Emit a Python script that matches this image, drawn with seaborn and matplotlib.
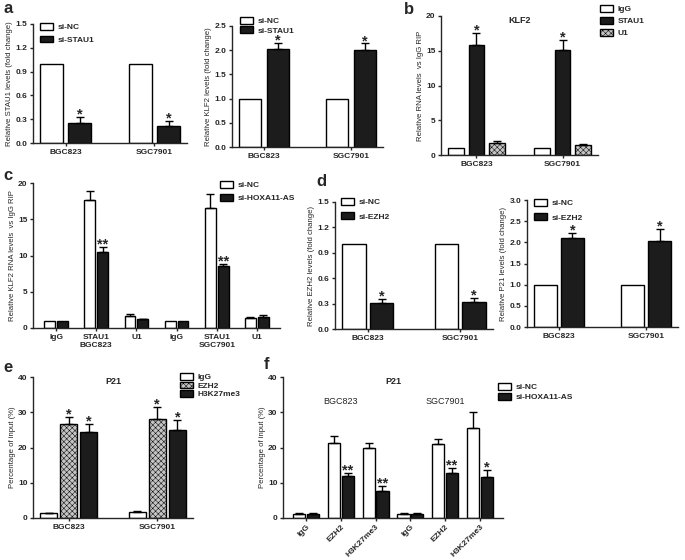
import numpy as np
import pandas as pd
import seaborn as sns
import matplotlib.pyplot as plt
from matplotlib.patches import Patch

sns.set_style("ticks")
plt.rcParams["font.family"] = ["Liberation Sans", "DejaVu Sans"]
plt.rcParams["hatch.linewidth"] = 0.35

# ---------------- data ----------------
cells = ["BGC823", "SGC7901"]

# a (left): STAU1 knockdown
a1_nc = [1.0, 1.0]
a1_si = [0.25, 0.22]
a1_si_err = [0.08, 0.06]
a1_yticks = [0.0, 0.3, 0.6, 0.9, 1.2, 1.5]

# a (right): KLF2 after STAU1 knockdown
a2_nc = [1.0, 1.0]
a2_si = [2.02, 2.0]
a2_si_err = [0.13, 0.14]
a2_yticks = [0.0, 0.5, 1.0, 1.5, 2.0, 2.5]

# b: RIP KLF2
b_groups = ["IgG", "STAU1", "U1"]
b_igg = [1.0, 1.0]
b_stau1 = [15.8, 15.1]
b_u1 = [1.7, 1.4]
b_err = {"IgG": [0.0, 0.0], "STAU1": [1.8, 1.5], "U1": [0.3, 0.25]}
b_yticks = [0, 5, 10, 15, 20]

# c: KLF2 RIP after HOXA11-AS knockdown
c_sites = ["IgG", "STAU1", "U1", "IgG", "STAU1", "U1"]
c_cells = ["BGC823"] * 3 + ["SGC7901"] * 3
c_nc = [1.0, 17.6, 1.7, 1.0, 16.5, 1.4]
c_nc_err = [0.0, 1.3, 0.2, 0.0, 2.0, 0.15]
c_si = [1.0, 10.5, 1.2, 1.0, 8.5, 1.5]
c_si_err = [0.0, 0.7, 0.1, 0.0, 0.35, 0.3]
c_stars = ["", "**", "", "", "**", ""]
c_yticks = [0, 5, 10, 15, 20]

# d (left): EZH2 knockdown
d1_nc = [1.0, 1.0]
d1_si = [0.31, 0.32]
d1_si_err = [0.05, 0.05]
d1_yticks = [0.0, 0.3, 0.6, 0.9, 1.2, 1.5]

# d (right): P21 after EZH2 knockdown
d2_nc = [1.0, 1.0]
d2_si = [2.1, 2.03]
d2_si_err = [0.12, 0.28]
d2_yticks = [0.0, 0.5, 1.0, 1.5, 2.0, 2.5, 3.0]

# e: ChIP P21
e_groups = ["IgG", "EZH2", "H3K27me3"]
e_igg = [1.3, 1.7]
e_ezh2 = [26.7, 28.2]
e_h3 = [24.5, 25.1]
e_err = {"IgG": [0.2, 0.3], "EZH2": [2.0, 3.2], "H3K27me3": [2.2, 2.7]}
e_yticks = [0, 10, 20, 30, 40]

# f: ChIP P21 after HOXA11-AS knockdown
f_sites = ["IgG", "EZH2", "H3K27me3", "IgG", "EZH2", "H3K27me3"]
f_cells = ["BGC823"] * 3 + ["SGC7901"] * 3
f_nc = [1.2, 21.4, 19.8, 1.2, 21.1, 25.4]
f_nc_err = [0.1, 1.8, 1.6, 0.1, 1.3, 4.6]
f_si = [1.2, 11.8, 7.8, 1.2, 12.9, 11.5]
f_si_err = [0.1, 1.0, 1.3, 0.1, 1.3, 2.2]
f_stars = ["", "**", "**", "", "**", "*"]
f_yticks = [0, 10, 20, 30, 40]

# ---------------- helpers ----------------
W, H = 685, 560
fig = plt.figure(figsize=(W / 100, H / 100), dpi=100)
LW = 1.0
GREY = "#c4c4c4"


def px_axes(l, t, r, b):
    return fig.add_axes([l / W, 1 - b / H, (r - l) / W, (b - t) / H])


def style(ax, yticks, ylabel, fmt):
    sns.despine(ax=ax)
    for s in ["left", "bottom"]:
        ax.spines[s].set_linewidth(LW)
    ax.set_ylim(yticks[0], yticks[-1])
    ax.set_yticks(yticks)
    ax.set_yticklabels([fmt.format(v) for v in yticks], fontsize=6, fontweight="bold")
    ax.tick_params(axis="both", width=LW, length=2.5, pad=1.5)
    ax.tick_params(axis="x", labelsize=6)
    for lab in ax.get_xticklabels():
        lab.set_fontweight("bold")
    ax.set_xlabel("")
    ax.set_ylabel(ylabel, fontsize=5.6, labelpad=1.5)


def bars(ax, df, x, order, hue_order, colors, width, gap, hatch_levels=()):
    sns.barplot(data=df, x=x, y="value", hue="group", order=order,
                hue_order=hue_order, palette=colors, edgecolor="black",
                linewidth=LW, width=width, gap=gap, legend=False, ax=ax)
    n = len(order)
    out = {}
    for i, g in enumerate(hue_order):
        ps = ax.patches[i * n:(i + 1) * n]
        out[g] = ps
        if g in hatch_levels:
            for p in ps:
                p.set_hatch("xxxxxx")
    return out


def errs(ax, patches, err, stars=None, star_size=10.5):
    xs = np.array([p.get_x() + p.get_width() / 2 for p in patches])
    hs = np.array([p.get_height() for p in patches])
    err = np.asarray(err, dtype=float)
    m = err > 0
    ax.errorbar(xs[m], hs[m], yerr=[np.zeros(m.sum()), err[m]], fmt="none",
                ecolor="black", elinewidth=LW, capsize=3.2, capthick=LW, zorder=3)
    if stars:
        for x0, h0, e0, s in zip(xs, hs, err, stars):
            if s:
                ax.annotate(s, (x0, h0 + e0), xytext=(0, -3.3),
                            textcoords="offset points", ha="center", va="bottom",
                            fontsize=star_size, fontweight="bold")


def legend(ax, labels, colors, x, y, spacing=0.55, hatched=()):
    handles = [Patch(facecolor=colors[l], edgecolor="black", linewidth=LW,
                     hatch="xxxxxx" if l in hatched else None) for l in labels]
    ax.legend(handles, labels, loc="upper left", bbox_to_anchor=(x / W, 1 - y / H),
              bbox_transform=fig.transFigure, frameon=False,
              prop={"weight": "bold", "size": 6}, handlelength=1.6,
              handleheight=0.85, handletextpad=0.5, labelspacing=spacing,
              borderpad=0, borderaxespad=0)


def two_df(a, b, la, lb, cats):
    return pd.DataFrame({"cell": cats * 2, "value": a + b,
                         "group": [la] * len(cats) + [lb] * len(cats)})


# ---------------- panel a ----------------
col_a = {"si-NC": "white", "si-STAU1": "#1c1c1c"}
ax = px_axes(33, 24, 187, 143)
ps = bars(ax, two_df(a1_nc, a1_si, "si-NC", "si-STAU1", cells), "cell", cells,
          ["si-NC", "si-STAU1"], col_a, 0.64, 0.2)
errs(ax, ps["si-STAU1"], a1_si_err, ["*", "*"])
style(ax, a1_yticks, "Relative STAU1 levels (fold change)", "{:.1f}")
legend(ax, ["si-NC", "si-STAU1"], col_a, 40, 23)

ax = px_axes(232, 26, 383, 147)
ps = bars(ax, two_df(a2_nc, a2_si, "si-NC", "si-STAU1", cells), "cell", cells,
          ["si-NC", "si-STAU1"], col_a, 0.64, 0.2)
errs(ax, ps["si-STAU1"], a2_si_err, ["*", "*"])
style(ax, a2_yticks, "Relative KLF2 levels (fold change)", "{:.1f}")
legend(ax, ["si-NC", "si-STAU1"], col_a, 240, 17, spacing=0.15)

# ---------------- panel b ----------------
col_b = {"IgG": "white", "STAU1": "#1c1c1c", "U1": GREY}
df_b = pd.DataFrame({"cell": cells * 3, "value": b_igg + b_stau1 + b_u1,
                     "group": ["IgG"] * 2 + ["STAU1"] * 2 + ["U1"] * 2})
ax = px_axes(441, 16, 598, 155)
ps = bars(ax, df_b, "cell", cells, b_groups, col_b, 0.71, 0.22, hatch_levels=["U1"])
for g in b_groups:
    errs(ax, ps[g], b_err[g], ["*", "*"] if g == "STAU1" else None)
style(ax, b_yticks, "Relative RNA levels  vs IgG RIP", "{:d}")
ax.text(0.5, 1.0, "KLF2", transform=ax.transAxes, ha="center", va="top",
        fontsize=6.5, fontweight="bold")
legend(ax, b_groups, col_b, 600, 5, spacing=0.45, hatched=["U1"])

# ---------------- panel c ----------------
col_c = {"si-NC": "white", "si-HOXA11-AS": "#1c1c1c"}
c_keys = [f"{s}|{c}" for s, c in zip(c_sites, c_cells)]
ax = px_axes(33, 183, 280, 328)
ps = bars(ax, two_df(c_nc, c_si, "si-NC", "si-HOXA11-AS", c_keys), "cell", c_keys,
          ["si-NC", "si-HOXA11-AS"], col_c, 0.64, 0.15)
errs(ax, ps["si-NC"], c_nc_err)
errs(ax, ps["si-HOXA11-AS"], c_si_err, c_stars)
style(ax, c_yticks, "Relative KLF2 RNA levels  vs IgG RIP", "{:d}")
ax.set_xticks(range(len(c_keys)))
ax.set_xticklabels([s + ("\n" + c if s == "STAU1" else "\n") for s, c in zip(c_sites, c_cells)],
                   fontsize=6, fontweight="bold", linespacing=1.3)
legend(ax, ["si-NC", "si-HOXA11-AS"], col_c, 220, 181, spacing=0.6)

# ---------------- panel d ----------------
col_d = {"si-NC": "white", "si-EZH2": "#1c1c1c"}
ax = px_axes(335, 202, 493, 329)
ps = bars(ax, two_df(d1_nc, d1_si, "si-NC", "si-EZH2", cells), "cell", cells,
          ["si-NC", "si-EZH2"], col_d, 0.6, 0.15)
errs(ax, ps["si-EZH2"], d1_si_err, ["*", "*"])
style(ax, d1_yticks, "Relative EZH2 levels (fold change)", "{:.1f}")
legend(ax, ["si-NC", "si-EZH2"], col_d, 341, 198, spacing=0.75)

ax = px_axes(527, 200, 678, 327)
ps = bars(ax, two_df(d2_nc, d2_si, "si-NC", "si-EZH2", cells), "cell", cells,
          ["si-NC", "si-EZH2"], col_d, 0.62, 0.15)
errs(ax, ps["si-EZH2"], d2_si_err, ["*", "*"])
style(ax, d2_yticks, "Relative P21 levels (fold change)", "{:.1f}")
legend(ax, ["si-NC", "si-EZH2"], col_d, 534, 199, spacing=0.75)

# ---------------- panel e ----------------
col_e = {"IgG": "white", "EZH2": GREY, "H3K27me3": "#1c1c1c"}
df_e = pd.DataFrame({"cell": cells * 3, "value": e_igg + e_ezh2 + e_h3,
                     "group": ["IgG"] * 2 + ["EZH2"] * 2 + ["H3K27me3"] * 2})
ax = px_axes(33, 377, 193, 518)
ps = bars(ax, df_e, "cell", cells, e_groups, col_e, 0.68, 0.17, hatch_levels=["EZH2"])
for g in e_groups:
    errs(ax, ps[g], e_err[g], None if g == "IgG" else ["*", "*"])
style(ax, e_yticks, "Percentage of input (%)", "{:d}")
ax.text(0.5, 1.0, "P21", transform=ax.transAxes, ha="center", va="top",
        fontsize=6.5, fontweight="bold")
legend(ax, e_groups, col_e, 180, 373, spacing=0.05, hatched=["EZH2"])

# ---------------- panel f ----------------
col_f = {"si-NC": "white", "si-HOXA11-AS": "#1c1c1c"}
f_keys = [f"{s}|{c}" for s, c in zip(f_sites, f_cells)]
ax = px_axes(283, 377, 503, 518)
ps = bars(ax, two_df(f_nc, f_si, "si-NC", "si-HOXA11-AS", f_keys), "cell", f_keys,
          ["si-NC", "si-HOXA11-AS"], col_f, 0.79, 0.1)
errs(ax, ps["si-NC"], f_nc_err)
errs(ax, ps["si-HOXA11-AS"], f_si_err, f_stars)
style(ax, f_yticks, "Percentage of input (%)", "{:d}")
ax.set_xticks(range(len(f_keys)))
ax.set_xticklabels(f_sites, rotation=45, ha="right", rotation_mode="anchor",
                   fontsize=6, fontweight="bold")
ax.text(0.5, 1.0, "P21", transform=ax.transAxes, ha="center", va="top",
        fontsize=6.5, fontweight="bold")
for i, c in enumerate(cells):
    ax.text(1 + 3 * i, 33, c, ha="center", va="center", fontsize=6.5)
legend(ax, ["si-NC", "si-HOXA11-AS"], col_f, 498, 383, spacing=0.2)

# ---------------- panel letters ----------------
for lbl, x, y in [("a", 3, 1), ("b", 404, 2), ("c", 3, 168), ("d", 316, 174),
                  ("e", 3, 360), ("f", 264, 357)]:
    fig.text(x / W, 1 - y / H, lbl, ha="left", va="top", fontsize=12,
             fontweight="bold")

fig.savefig("out.png", dpi=100)
